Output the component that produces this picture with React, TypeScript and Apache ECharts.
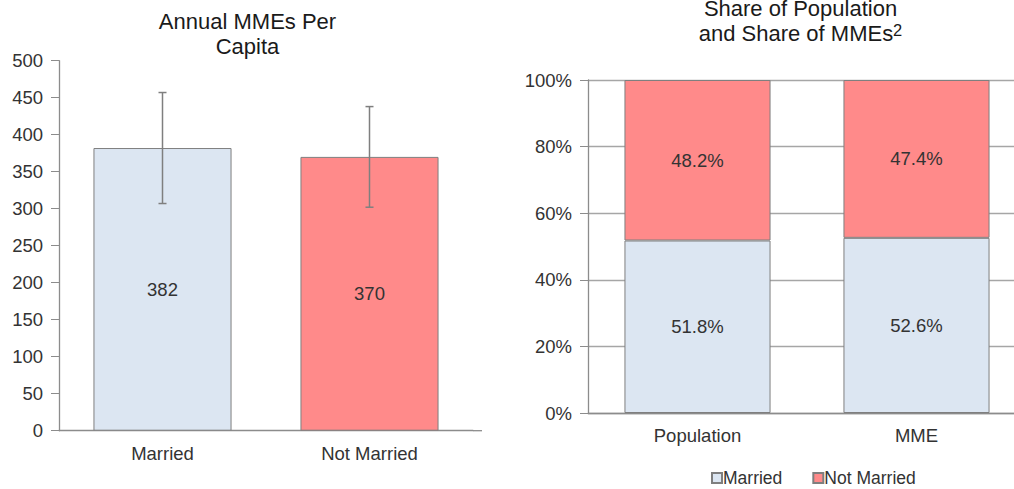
import React, { useEffect, useRef } from "react";
import * as echarts from "echarts";

const leftCategories = ["Married", "Not Married"];
const mmePerCapita = [382, 370];
const errorLow = [307, 302];
const errorHigh = [457, 438];

const rightCategories = ["Population", "MME"];
const marriedShare = [51.8, 52.6];
const notMarriedShare = [48.2, 47.4];

const FONT = "'Liberation Sans', Arial, sans-serif";
const BLUE = "#dce6f2";
const RED = "#ff8a8a";
const BORDER = "#7f7f7f";
const AXIS = "#8c8c8c";
const TEXT = "#333333";

export default function App() {
  const ref = useRef<HTMLDivElement>(null);
  useEffect(() => {
    if (!ref.current) return;
    const chart = echarts.init(ref.current, undefined, { renderer: "svg" });
    const axisLabelStyle = { color: TEXT, fontSize: 18.5, fontFamily: FONT };
    chart.setOption({
      animation: false,
      textStyle: { fontFamily: FONT },
      title: [
        {
          text: "Annual MMEs Per\nCapita",
          left: 247.5,
          top: 9,
          padding: 0,
          textAlign: "center",
          textStyle: { fontSize: 22, fontWeight: "normal", color: "#1a1a1a", lineHeight: 25, fontFamily: FONT },
        },
        {
          text: "Share of Population\nand Share of MMEs{sup|2}",
          left: 800.5,
          top: -4,
          padding: 0,
          textAlign: "center",
          textStyle: {
            fontSize: 22,
            fontWeight: "normal",
            color: "#1a1a1a",
            lineHeight: 25,
            fontFamily: FONT,
            rich: {
              sup: { fontSize: 16.5, lineHeight: 16, verticalAlign: "top", color: "#1a1a1a", fontFamily: FONT },
            },
          },
        },
      ],
      legend: {
        data: ["Married", "Not Married"],
        left: 711,
        top: 469,
        icon: "rect",
        itemWidth: 10,
        itemHeight: 10,
        itemGap: 30,
        padding: 0,
        textStyle: { color: TEXT, fontSize: 17.5, fontFamily: FONT, padding: [0, 0, 0, -4] },
      },
      graphic: [
        {
          type: "line",
          shape: { x1: 473, y1: 430.7, x2: 482, y2: 430.7 },
          style: { stroke: AXIS, lineWidth: 1.3 },
          silent: true,
        },
      ],
      grid: [
        { left: 59, top: 60.7, width: 414, height: 370, outerBoundsMode: "none" },
        { left: 588, top: 80, width: 438, height: 333, outerBoundsMode: "none" },
      ],
      xAxis: [
        {
          type: "category",
          gridIndex: 0,
          data: leftCategories,
          axisLine: { lineStyle: { color: AXIS, width: 1.3 } },
          axisTick: { show: false },
          axisLabel: { ...axisLabelStyle, margin: 13 },
        },
        {
          type: "category",
          gridIndex: 1,
          data: rightCategories,
          axisLine: { lineStyle: { color: AXIS, width: 1.3 } },
          axisTick: { show: false },
          axisLabel: { ...axisLabelStyle, margin: 13 },
        },
      ],
      yAxis: [
        {
          type: "value",
          gridIndex: 0,
          min: 0,
          max: 500,
          interval: 50,
          axisLine: { show: true, lineStyle: { color: AXIS, width: 1.3 } },
          axisTick: { show: true, length: 8, lineStyle: { color: AXIS } },
          splitLine: { show: false },
          axisLabel: { ...axisLabelStyle, margin: 16 },
        },
        {
          type: "value",
          gridIndex: 1,
          min: 0,
          max: 100,
          interval: 20,
          axisLine: { show: true, lineStyle: { color: AXIS, width: 1.3 } },
          axisTick: { show: true, length: 8, lineStyle: { color: AXIS } },
          splitLine: { show: true, lineStyle: { color: "#a6a6a6", width: 1.3 } },
          axisLabel: { ...axisLabelStyle, margin: 16, formatter: "{value}%" },
        },
      ],
      series: [
        {
          type: "bar",
          name: "MMEs",
          xAxisIndex: 0,
          yAxisIndex: 0,
          barWidth: "66.7%",
          data: mmePerCapita.map((v, i) => ({
            value: v,
            itemStyle: { color: i === 0 ? BLUE : RED, borderColor: BORDER, borderWidth: 1 },
          })),
          label: { show: true, position: "inside", color: TEXT, fontSize: 18.5, fontFamily: FONT },
        },
        {
          type: "custom",
          name: "error",
          xAxisIndex: 0,
          yAxisIndex: 0,
          z: 10,
          data: errorLow.map((lo, i) => [i, lo, errorHigh[i]]),
          encode: { x: 0, y: [1, 2] },
          renderItem: (params: any, api: any) => {
            const x = api.value(0);
            const lo = api.coord([x, api.value(1)]);
            const hi = api.coord([x, api.value(2)]);
            const half = 4;
            const style = { stroke: "#7f7f7f", lineWidth: 1.5 };
            return {
              type: "group",
              children: [
                { type: "line", shape: { x1: lo[0], y1: lo[1], x2: hi[0], y2: hi[1] }, style },
                { type: "line", shape: { x1: lo[0] - half, y1: lo[1], x2: lo[0] + half, y2: lo[1] }, style },
                { type: "line", shape: { x1: hi[0] - half, y1: hi[1], x2: hi[0] + half, y2: hi[1] }, style },
              ],
            };
          },
        },
        {
          type: "bar",
          name: "Married",
          stack: "share",
          xAxisIndex: 1,
          yAxisIndex: 1,
          barWidth: "66.7%",
          data: marriedShare,
          itemStyle: { color: BLUE, borderColor: BORDER, borderWidth: 1 },
          label: {
            show: true,
            position: "inside",
            color: TEXT,
            fontSize: 18.5,
            fontFamily: FONT,
            formatter: (p: any) => p.value.toFixed(1) + "%",
          },
        },
        {
          type: "bar",
          name: "Not Married",
          stack: "share",
          xAxisIndex: 1,
          yAxisIndex: 1,
          barWidth: "66.7%",
          data: notMarriedShare,
          itemStyle: { color: RED, borderColor: BORDER, borderWidth: 1 },
          label: {
            show: true,
            position: "inside",
            color: TEXT,
            fontSize: 18.5,
            fontFamily: FONT,
            formatter: (p: any) => p.value.toFixed(1) + "%",
          },
        },
      ],
    });
    return () => chart.dispose();
  }, []);
  return (
    <div
      ref={ref}
      style={{ position: "fixed", left: 0, top: 0, width: 1014, height: 489, background: "#fff" }}
    />
  );
}
